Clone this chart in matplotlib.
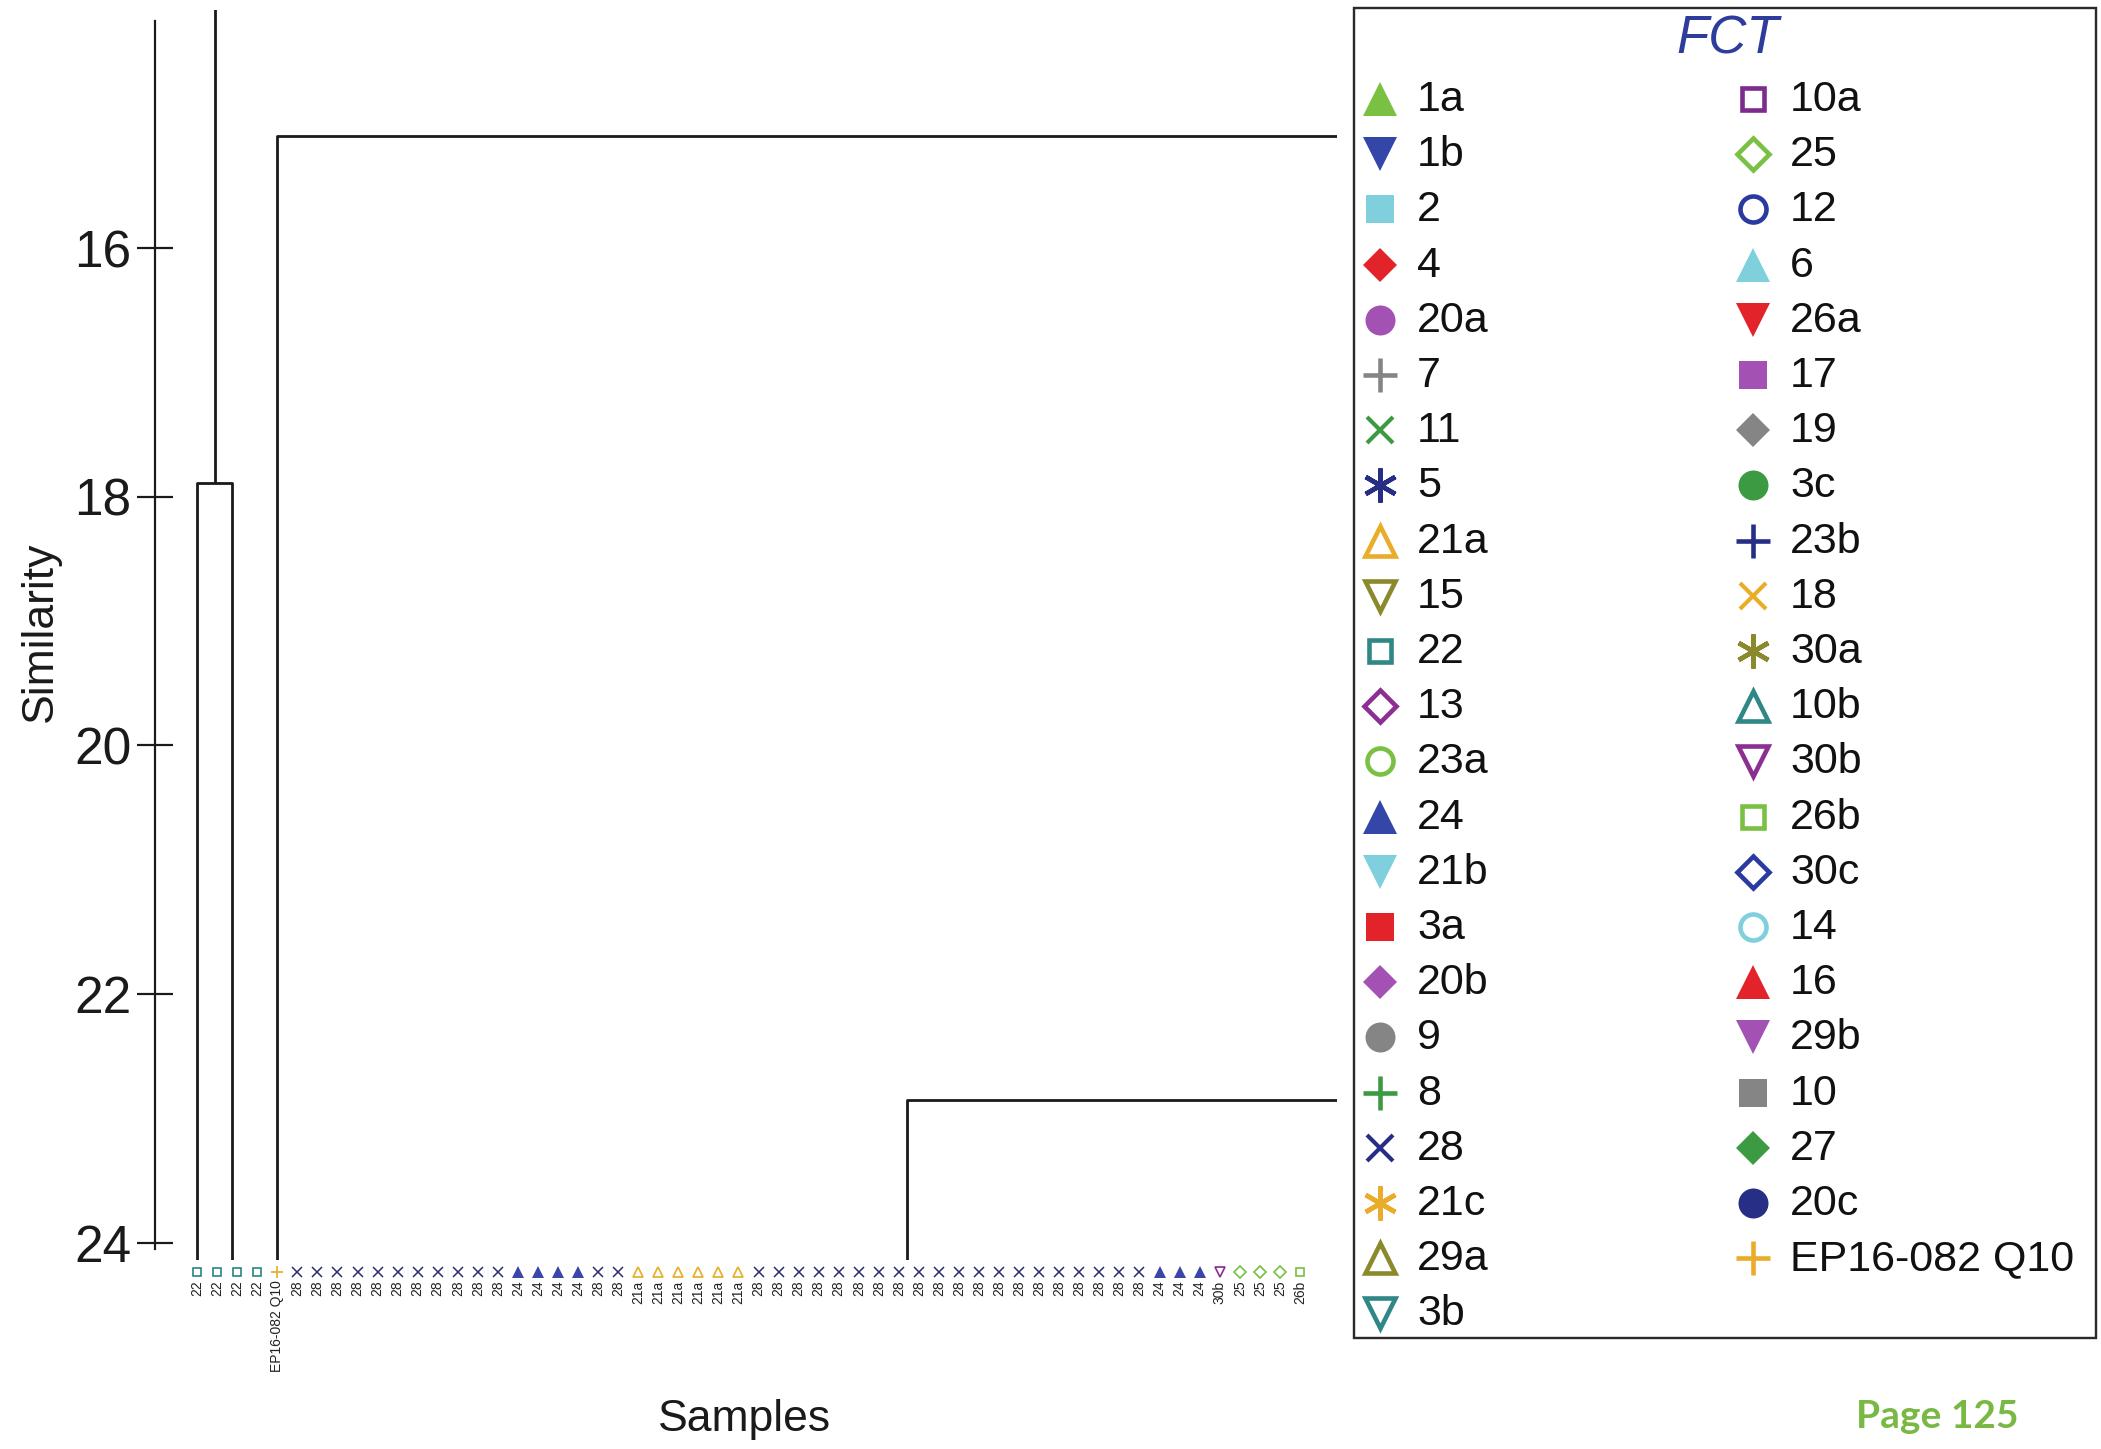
import matplotlib
matplotlib.use("Agg")
import matplotlib.pyplot as plt
from matplotlib.patches import Rectangle

plt.rcParams['font.family'] = ['Liberation Sans', 'DejaVu Sans']

# ---------------- data ----------------
# leaf order of the dendrogram (group label of each sample)
leaf_groups = (["22"] * 4 + ["EP16-082 Q10"] + ["28"] * 11 + ["24"] * 4 + ["28"] * 2
               + ["21a"] * 6 + ["28"] * 20 + ["24"] * 3 + ["30b"] + ["25"] * 3 + ["26b"])

# visible links: left/right position, merge similarity, heights of the two children
link_left = [0.0, 0.875, 4.0, 35.4]
link_right = [1.75, 90.0, 90.0, 90.0]
link_height = [17.89, 13.9, 15.1, 22.85]
link_left_child = [24.4, 17.89, 24.4, 24.4]
link_right_child = [24.4, 24.4, 24.4, 24.4]

y_ticks = [16, 18, 20, 22, 24]

# FCT legend: label, marker key, colour
legend_col1 = ["1a", "1b", "2", "4", "20a", "7", "11", "5", "21a", "15", "22", "13",
               "23a", "24", "21b", "3a", "20b", "9", "8", "28", "21c", "29a", "3b"]
marker_col1 = ["^f", "vf", "sf", "Df", "of", "+", "x", "*", "^o", "vo", "so", "Do",
               "oo", "^f", "vf", "sf", "Df", "of", "+", "x", "*", "^o", "vo"]
color_col1 = ["#79c043", "#3446a8", "#7fd0dc", "#e2242a", "#a352b3", "#858585",
              "#3c9a42", "#262f85", "#e9ad2a", "#8a8a2c", "#2f8886", "#8b2f93",
              "#79c043", "#3446a8", "#7fd0dc", "#e2242a", "#a352b3", "#858585",
              "#3c9a42", "#262f85", "#e9ad2a", "#8a8a2c", "#2f8886"]

legend_col2 = ["10a", "25", "12", "6", "26a", "17", "19", "3c", "23b", "18", "30a",
               "10b", "30b", "26b", "30c", "14", "16", "29b", "10", "27", "20c",
               "EP16-082 Q10"]
marker_col2 = ["so", "Do", "oo", "^f", "vf", "sf", "Df", "of", "+", "x", "*", "^o",
               "vo", "so", "Do", "oo", "^f", "vf", "sf", "Df", "of", "+"]
color_col2 = ["#7d2c8e", "#79c043", "#2b3aa0", "#7fd0dc", "#e2242a", "#a352b3",
              "#858585", "#3c9a42", "#262f85", "#e9ad2a", "#8a8a2c", "#2f8886",
              "#8b2f93", "#79c043", "#2b3aa0", "#7fd0dc", "#e2242a", "#a352b3",
              "#858585", "#3c9a42", "#262f85", "#e9ad2a"]

# ---------------- figure ----------------
W, H = 2101, 1449
DPI = 100
fig = plt.figure(figsize=(W / DPI, H / DPI), dpi=DPI)
fig.patch.set_facecolor("white")
PX = 72.0 / DPI  # points per pixel


def marker_style(key, color, scale=1.0, lw=4.6):
    """Return plot kwargs for a marker key such as '^f' (filled) or 'so' (open)."""
    if key == "+":
        return dict(marker="+", markersize=34 * PX * scale, markeredgewidth=lw * PX,
                    color=color, linestyle="none")
    if key == "x":
        return dict(marker="x", markersize=26 * PX * scale, markeredgewidth=lw * 0.9 * PX,
                    color=color, linestyle="none")
    if key == "*":
        return dict(marker=(6, 2, 0), markersize=34 * PX * scale,
                    markeredgewidth=lw * PX, color=color, linestyle="none")
    shape, fill = key[0], key[1]
    sizes = {"^": 34, "v": 34, "s": 28, "D": 24, "o": 30}
    if fill == "f":
        return dict(marker=shape, markersize=sizes[shape] * PX * scale, color=color,
                    markeredgewidth=0, linestyle="none")
    open_sizes = {"^": 30, "v": 30, "s": 23, "D": 22, "o": 26}
    return dict(marker=shape, markersize=open_sizes[shape] * PX * scale,
                markerfacecolor="none", markeredgecolor=color,
                markeredgewidth=lw * PX, linestyle="none")


group_style = {}
for lab, mk, col in zip(legend_col1 + legend_col2, marker_col1 + marker_col2,
                        color_col1 + color_col2):
    group_style.setdefault(lab, (mk, col))
# the sample markers use a darker navy for the "28" crosses
group_style["28"] = ("x", "#2a2d6e")
group_style["24"] = ("^f", "#3a47a6")

# ---------------- dendrogram ----------------
ax_l, ax_r, ax_t, ax_b = 155, 1337, 10, 1260
ax = fig.add_axes([ax_l / W, 1 - ax_b / H, (ax_r - ax_l) / W, (ax_b - ax_t) / H])
ax.set_xlim(-2.1, 56.85)
ax.set_ylim(24.14, 14.085)

line_kw = dict(color="#1a1a1a", linewidth=2.8 * PX, solid_capstyle="butt")
for xl, xr, h, hl, hr in zip(link_left, link_right, link_height,
                             link_left_child, link_right_child):
    ax.plot([xl, xl, xr, xr], [hl, h, h, hr], **line_kw)

# sample markers and labels under the leaves
for i, g in enumerate(leaf_groups):
    mk, col = group_style[g]
    st = marker_style(mk, col, scale=0.36, lw=1.7)
    ax.plot([i], [24.24], clip_on=False, **st)
    ax.text(i, 24.305, g, rotation=90, ha="center", va="top", fontsize=10,
            color="#222222", clip_on=False)

for side in ("top", "right", "bottom"):
    ax.spines[side].set_visible(False)
ax.spines["left"].set_bounds(14.17, 24.05)
ax.spines["left"].set_linewidth(2.2 * PX)
ax.spines["left"].set_color("#1a1a1a")
ax.set_yticks(y_ticks)
ax.tick_params(axis="y", direction="inout", length=36 * PX, width=2.2 * PX,
               labelsize=37, pad=4, colors="#1a1a1a")
ax.set_xticks([])

fig.text(40 / W, 1 - 632 / H, "Similarity", rotation=90, ha="center", va="center",
         fontsize=32, color="#1a1a1a")
fig.text(745 / W, 1 - 1420 / H, "Samples", ha="center", va="center",
         fontsize=32, color="#1a1a1a")

# ---------------- legend box ----------------
bx_l, bx_r, bx_t, bx_b = 1353, 2098, 7, 1340
lax = fig.add_axes([bx_l / W, 1 - bx_b / H, (bx_r - bx_l) / W, (bx_b - bx_t) / H])
bw, bh = bx_r - bx_l, bx_b - bx_t
lax.set_xlim(0, bw)
lax.set_ylim(bh, 0)
lax.axis("off")
lax.add_patch(Rectangle((1, 1), bw - 3, bh - 3, fill=False, edgecolor="#2a2a2a",
                        linewidth=2.4 * PX, clip_on=False))

lax.text(375, 32, "FCT", ha="center", va="center", fontsize=38, style="italic",
         color="#2e3c9c")

row0, row_step = 92, 55.2
for col_x, labels, markers, colors in ((27, legend_col1, marker_col1, color_col1),
                                       (400, legend_col2, marker_col2, color_col2)):
    for r, (lab, mk, c) in enumerate(zip(labels, markers, colors)):
        y = row0 + r * row_step
        lax.plot([col_x], [y], clip_on=False, **marker_style(mk, c))
        lax.text(col_x + 37, y + 1, lab, ha="left", va="center", fontsize=31,
                 color="#111111")

fig.text(1856 / W, 1 - 1416 / H, "Page 125", ha="left", va="center", fontsize=28,
         fontweight="bold", color="#78b843", family=["Lato", "DejaVu Sans"])

fig.savefig("out.png", dpi=DPI, facecolor="white")
